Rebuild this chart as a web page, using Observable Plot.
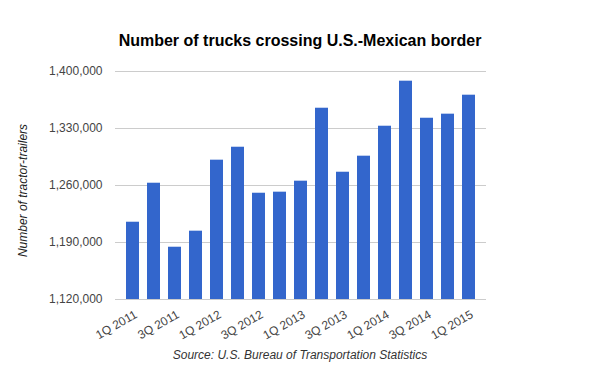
<!DOCTYPE html>
<html>
<head>
<meta charset="utf-8">
<script src="https://cdn.jsdelivr.net/npm/d3@7"></script>
<script src="https://cdn.jsdelivr.net/npm/@observablehq/plot@0.6"></script>
<style>
  html, body { margin: 0; padding: 0; background: #fff; }
  body { width: 600px; height: 371px; overflow: hidden; font-family: "Liberation Sans", Arial, sans-serif; }
  #title { height: 18px; padding-top: 32px; margin-bottom: 10px; line-height: 18px; text-align: center; font-weight: bold; font-size: 16px; color: #000; }
  #chart svg { display: block; }
  #caption { position: relative; margin-top: -13px; line-height: 16px; text-align: center; font-style: italic; font-size: 12px; color: #333; }
</style>
</head>
<body>
<div id="title">Number of trucks crossing U.S.-Mexican border</div>
<div id="chart"></div>
<div id="caption">Source: U.S. Bureau of Transportation Statistics</div>
<script>
const quarters = ["1Q 2011","2Q 2011","3Q 2011","4Q 2011","1Q 2012","2Q 2012","3Q 2012","4Q 2012","1Q 2013","2Q 2013","3Q 2013","4Q 2013","1Q 2014","2Q 2014","3Q 2014","4Q 2014","1Q 2015"];
const trucks = [1214900, 1262800, 1184200, 1203900, 1291100, 1307000, 1250500, 1251800, 1265300, 1354900, 1276300, 1296000, 1332800, 1388100, 1342600, 1347600, 1370900];
const yTicks = [1120000, 1190000, 1260000, 1330000, 1400000];
const xTickLabels = quarters.filter((d, i) => i % 2 === 0);
const yLabel = "Number of tractor-trailers";

const data = quarters.map((q, i) => ({q, v: trucks[i]}));

const chart = Plot.plot({
  width: 600,
  height: 300,
  marginTop: 11,
  marginBottom: 61,
  marginLeft: 115,
  marginRight: 114,
  style: {fontFamily: "'Liberation Sans', Arial, sans-serif", background: "transparent"},
  x: {domain: quarters, paddingInner: 0.4, paddingOuter: 0.2},
  y: {domain: [yTicks[0], yTicks[yTicks.length - 1]]},
  marks: [
    Plot.gridY(yTicks, {stroke: "#ccc", strokeOpacity: 1}),
    Plot.barY(data, {x: "q", y1: yTicks[0], y2: "v", fill: "#3366cc"}),
    Plot.axisY(yTicks, {tickSize: 0, tickPadding: 13, fontSize: 12, fill: "#444", tickFormat: d3.format(","), label: null}),
    Plot.axisX(xTickLabels, {tickSize: 0, tickPadding: 14, dx: 3, tickRotate: -30, fontSize: 12, fill: "#444", label: null}),
    Plot.text([yLabel], {frameAnchor: "left", text: d => d, rotate: -90, dx: -92, dy: 5, fontSize: 12, fontStyle: "italic", fill: "#222", textAnchor: "middle"})
  ]
});
document.getElementById("chart").appendChild(chart);
</script>
</body>
</html>
